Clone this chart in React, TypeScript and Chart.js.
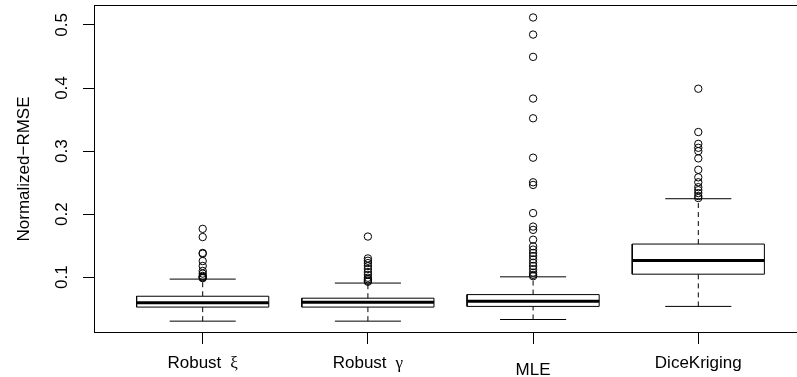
import React, { useEffect, useRef } from "react";
import { Chart, registerables } from "chart.js";

Chart.register(...registerables);

// ---- data ----
const categories = ["Robust", "Robust", "MLE", "DiceKriging"];
const greekSuffix = ["ξ", "γ", "", ""];
const lowerWhisker = [0.0302, 0.0302, 0.0328, 0.0536];
const q1Values = [0.0525, 0.0525, 0.0536, 0.1047];
const medianValues = [0.0594, 0.0603, 0.0619, 0.1266];
const q3Values = [0.0697, 0.0666, 0.0723, 0.1525];
const upperWhisker = [0.0969, 0.0906, 0.1005, 0.2244];
const outliersRobustXi = [0.1766, 0.1636, 0.1384, 0.1372, 0.1255, 0.1177, 0.1098, 0.1056, 0.102, 0.1005, 0.0994, 0.0984];
const outliersRobustGamma = [0.1644, 0.1297, 0.126, 0.1223, 0.1177, 0.113, 0.108, 0.1036, 0.099, 0.0965, 0.0942, 0.0927];
const outliersMLE = [0.5119, 0.4848, 0.4494, 0.3833, 0.352, 0.2895, 0.2505, 0.2463, 0.2016, 0.1802, 0.175, 0.1594, 0.1489, 0.1437, 0.1384, 0.1333, 0.1281, 0.1228, 0.1177, 0.1125, 0.1072, 0.1036, 0.1015];
const outliersDice = [0.3989, 0.3302, 0.3114, 0.3052, 0.2998, 0.2884, 0.2703, 0.2583, 0.2505, 0.2427, 0.238, 0.2333, 0.2286, 0.2255];
const outlierGroups = [outliersRobustXi, outliersRobustGamma, outliersMLE, outliersDice];
const yTicks = [0.1, 0.2, 0.3, 0.4, 0.5];
const yTitle = "Normalized\u2212RMSE";

const FONT = "'Liberation Sans', Arial, sans-serif";
const FONT_SIZE = 17;

export default function App() {
  const canvasRef = useRef<HTMLCanvasElement | null>(null);

  useEffect(() => {
    const canvas = canvasRef.current;
    if (!canvas) return;

    const datasets: any[] = [];
    const lineBase = {
      showLine: true,
      pointRadius: 0,
      borderColor: "#000",
      backgroundColor: "rgba(0,0,0,0)",
      fill: false,
    };
    for (let i = 0; i < categories.length; i++) {
      const x = i + 1;
      const hw = 0.4;
      const cw = 0.2;
      // whiskers (dashed)
      datasets.push({ ...lineBase, borderWidth: 1, borderDash: [5, 4], data: [{ x, y: q3Values[i] }, { x, y: upperWhisker[i] }] });
      datasets.push({ ...lineBase, borderWidth: 1, borderDash: [5, 4], data: [{ x, y: lowerWhisker[i] }, { x, y: q1Values[i] }] });
      // caps
      datasets.push({ ...lineBase, borderWidth: 1, data: [{ x: x - cw, y: upperWhisker[i] }, { x: x + cw, y: upperWhisker[i] }] });
      datasets.push({ ...lineBase, borderWidth: 1, data: [{ x: x - cw, y: lowerWhisker[i] }, { x: x + cw, y: lowerWhisker[i] }] });
      // box
      datasets.push({
        ...lineBase,
        borderWidth: 1,
        data: [
          { x: x - hw, y: q1Values[i] },
          { x: x + hw, y: q1Values[i] },
          { x: x + hw, y: q3Values[i] },
          { x: x - hw, y: q3Values[i] },
          { x: x - hw, y: q1Values[i] },
        ],
      });
      // median
      datasets.push({ ...lineBase, borderWidth: 3, borderCapStyle: "butt", data: [{ x: x - hw, y: medianValues[i] }, { x: x + hw, y: medianValues[i] }] });
      // outliers
      datasets.push({
        showLine: false,
        pointRadius: 3.7,
        pointBorderWidth: 1,
        pointBorderColor: "#000",
        pointBackgroundColor: "rgba(0,0,0,0)",
        data: outlierGroups[i].map((v) => ({ x, y: v })),
      });
    }

    const labelPlugin = {
      id: "rLabels",
      afterDraw(chart: any) {
        const ctx = chart.ctx;
        const area = chart.chartArea;
        const ys = chart.scales.y;
        const xs = chart.scales.x;
        ctx.save();
        ctx.strokeStyle = "#000";
        ctx.lineWidth = 1;
        ctx.strokeRect(Math.round(area.left) + 0.5, Math.round(area.top) + 0.5, area.right - area.left, area.bottom - area.top - 1);
        ctx.fillStyle = "#000";
        ctx.font = `${FONT_SIZE}px ${FONT}`;
        // y tick labels (rotated)
        for (const v of yTicks) {
          const py = ys.getPixelForValue(v);
          ctx.save();
          ctx.translate(67, py);
          ctx.rotate(-Math.PI / 2);
          ctx.textAlign = "center";
          ctx.textBaseline = "alphabetic";
          ctx.fillText(String(v), 0, 0);
          ctx.restore();
        }
        // y title
        ctx.save();
        ctx.translate(29, (area.top + area.bottom) / 2);
        ctx.rotate(-Math.PI / 2);
        ctx.textAlign = "center";
        ctx.textBaseline = "alphabetic";
        ctx.fillText(yTitle, 0, 0);
        ctx.restore();
        // x labels
        for (let i = 0; i < categories.length; i++) {
          const px = xs.getPixelForValue(i + 1);
          const main = categories[i];
          const greek = greekSuffix[i];
          ctx.textBaseline = "alphabetic";
          ctx.textAlign = "left";
          if (greek) {
            ctx.font = `${FONT_SIZE}px ${FONT}`;
            const w1 = ctx.measureText(main).width;
            const gap = 9;
            ctx.font = `${FONT_SIZE}px 'Liberation Serif', 'DejaVu Serif', serif`;
            const w2 = ctx.measureText(greek).width;
            const total = w1 + gap + w2;
            const x0 = px - total / 2;
            ctx.font = `${FONT_SIZE}px ${FONT}`;
            ctx.fillText(main, x0, 368);
            ctx.font = `${FONT_SIZE}px 'Liberation Serif', 'DejaVu Serif', serif`;
            ctx.fillText(greek, x0 + w1 + gap, 368);
          } else {
            ctx.font = `${FONT_SIZE}px ${FONT}`;
            ctx.textAlign = "center";
            ctx.fillText(main, px, main === "MLE" ? 375 : 368);
          }
        }
        ctx.restore();
      },
    };

    const chart = new Chart(canvas, {
      type: "scatter",
      data: { datasets },
      options: {
        animation: false,
        responsive: true,
        maintainAspectRatio: false,
        events: [],
        layout: { padding: { left: 0, top: 0, right: 13, bottom: 0 } },
        plugins: { legend: { display: false }, tooltip: { enabled: false } },
        scales: {
          x: {
            type: "linear",
            min: 0.342,
            max: 4.658,
            afterBuildTicks: (scale: any) => {
              scale.ticks = categories.map((_, i) => ({ value: i + 1 }));
            },
            afterFit: (scale: any) => {
              scale.height = 44;
            },
            ticks: { display: false },
            grid: { display: true, drawOnChartArea: false, drawTicks: true, tickLength: 11, color: "#000", lineWidth: 1 },
            border: { display: false },
          },
          y: {
            type: "linear",
            min: 0.0114,
            max: 0.5317,
            afterBuildTicks: (scale: any) => {
              scale.ticks = yTicks.map((v) => ({ value: v }));
            },
            afterFit: (scale: any) => {
              scale.width = 94;
            },
            ticks: { display: false },
            grid: { display: true, drawOnChartArea: false, drawTicks: true, tickLength: 11, color: "#000", lineWidth: 1 },
            border: { display: false },
          },
        },
      },
      plugins: [labelPlugin],
    });

    return () => {
      chart.destroy();
    };
  }, []);

  return (
    <div style={{ position: "fixed", left: 0, top: 0, width: 797, height: 377, overflow: "hidden", background: "#fff" }}>
      <div style={{ position: "absolute", left: 0, top: 0, width: 820, height: 377 }}>
        <canvas ref={canvasRef} />
      </div>
    </div>
  );
}
